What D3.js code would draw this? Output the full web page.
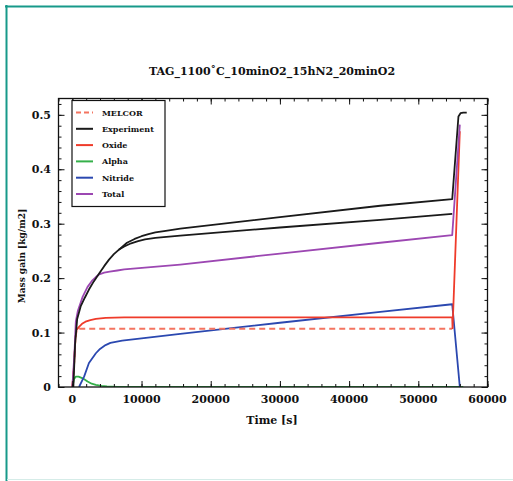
<!DOCTYPE html>
<html><head><meta charset="utf-8">
<script src="https://cdn.jsdelivr.net/npm/d3@7"></script>
<style>body{margin:0;background:#fff}svg{display:block}text{font-family:"DejaVu Serif",serif;font-weight:bold;fill:#111}</style>
</head><body><svg id="c" width="513" height="481"></svg>
<script>
const title = "TAG_1100˚C_10minO2_15hN2_20minO2";
const xTicks = [0,10000,20000,30000,40000,50000,60000];
const yTicks = [0,0.1,0.2,0.3,0.4,0.5];
const seriesNames = ["MELCOR","Experiment","Oxide","Alpha","Nitride","Total"];
const melcor = [[0,0],[250,0.04],[450,0.09],[650,0.105],[1000,0.107],[54900,0.107]];
const experiment1 = [[150,0],[400,0.08],[700,0.125],[1200,0.148],[1800,0.164],[2400,0.179],[3100,0.194],[3850,0.208],[4600,0.222],[5300,0.234],[6000,0.244],[6700,0.252],[7900,0.265],[9000,0.272],[10000,0.277],[11000,0.281],[12000,0.284],[13500,0.287],[15600,0.291],[30000,0.312],[44500,0.333],[54900,0.345],[55800,0.497],[56100,0.503],[56500,0.504],[57000,0.504]];
const experiment2 = [[6700,0.252],[7500,0.258],[8500,0.264],[9500,0.268],[10500,0.271],[12000,0.274],[15600,0.278],[30000,0.293],[44500,0.307],[54900,0.318]];
const oxide = [[0,0],[250,0.04],[450,0.09],[600,0.105],[1000,0.111],[1400,0.116],[1900,0.12],[2600,0.123],[3400,0.125],[4800,0.127],[7500,0.128],[54900,0.128],[54950,0.108],[56000,0.47]];
const alpha = [[0,0],[250,0.015],[500,0.019],[900,0.019],[1500,0.016],[2200,0.01],[2800,0.006],[3400,0.004],[4200,0.002],[5000,0.001],[6500,0],[56500,0]];
const nitride = [[970,0],[1700,0.019],[2400,0.044],[3400,0.062],[4000,0.07],[4800,0.077],[5500,0.081],[6250,0.083],[7200,0.085],[15600,0.0976],[30000,0.118],[44500,0.138],[54900,0.152],[56000,0]];
const total = [[0,0],[300,0.06],[500,0.12],[800,0.14],[1500,0.166],[2200,0.184],[2900,0.196],[3400,0.202],[3900,0.207],[4600,0.21],[5400,0.212],[6500,0.214],[7500,0.216],[15600,0.225],[30000,0.245],[44500,0.265],[54900,0.279],[56000,0.482]];

const colors = {MELCOR:"#f47460",Experiment:"#1a1a1a",Oxide:"#ef3b2a",Alpha:"#35b04a",Nitride:"#2b48b0",Total:"#9c47b2"};

const svg = d3.select("#c");
// frame
svg.append("line").attr("x1",5).attr("x2",513).attr("y1",6.5).attr("y2",6.5).attr("stroke","#17998a").attr("stroke-width",2);
svg.append("line").attr("x1",6.5).attr("x2",6.5).attr("y1",5).attr("y2",481).attr("stroke","#17998a").attr("stroke-width",2);
svg.append("line").attr("x1",7).attr("x2",513).attr("y1",479.5).attr("y2",479.5).attr("stroke","#d5ece8").attr("stroke-width",1);

const L=58.5,R=487.5,T=98.5,B=387;
const x = d3.scaleLinear().domain([-2000,60000]).range([L,R]);
const y = d3.scaleLinear().domain([0,0.53]).range([B,T]);

const g = svg.append("g");
svg.append("clipPath").attr("id","clip").append("rect").attr("x",L).attr("y",T).attr("width",R-L).attr("height",B-T);

const line = d3.line().x(d=>x(d[0])).y(d=>y(d[1]));
const lines = g.append("g").attr("clip-path","url(#clip)");
function draw(data,color,dash){
  lines.append("path").datum(data).attr("d",line).attr("fill","none").attr("stroke",color).attr("stroke-width",1.8).attr("stroke-dasharray",dash||null).attr("stroke-linejoin","round");
}
draw(alpha,colors.Alpha);
draw(nitride,colors.Nitride);
draw(melcor,colors.MELCOR,"6,4");
draw(oxide,colors.Oxide);
draw(total,colors.Total);
draw(experiment2,colors.Experiment);
draw(experiment1,colors.Experiment);

// axes with inward ticks
const xMinor = d3.range(-2000,60001,2000);
const yMinor = d3.range(0,0.531,0.02);
function xaxis(pos,dir){
  const mk = ()=> dir>0 ? d3.axisTop(x) : d3.axisBottom(x);
  const gg = g.append("g").attr("transform",`translate(0,${pos})`);
  gg.call(mk().tickValues(xMinor).tickSize(3).tickFormat(""));
  gg.select(".domain").remove();
  const gm = g.append("g").attr("transform",`translate(0,${pos})`);
  gm.call(mk().tickValues(xTicks).tickSize(6).tickFormat(""));
  gm.select(".domain").remove();
}
xaxis(B,1); xaxis(T,-1);
function yaxis(pos,dir){
  const mk = ()=> dir>0 ? d3.axisRight(y) : d3.axisLeft(y);
  const gg = g.append("g").attr("transform",`translate(${pos},0)`);
  gg.call(mk().tickValues(yMinor).tickSize(3).tickFormat(""));
  gg.select(".domain").remove();
  const gm = g.append("g").attr("transform",`translate(${pos},0)`);
  gm.call(mk().tickValues(yTicks).tickSize(6).tickFormat(""));
  gm.select(".domain").remove();
}
yaxis(L,1); yaxis(R,-1);
g.selectAll(".tick line").attr("stroke","#111");
g.append("rect").attr("x",L).attr("y",T).attr("width",R-L).attr("height",B-T).attr("fill","none").attr("stroke","#111").attr("stroke-width",1.3);

// tick labels
g.selectAll(".xl").data(xTicks).join("text").attr("x",d=>x(d)).attr("y",403).attr("text-anchor","middle").attr("font-size",11).text(d=>d);
g.selectAll(".yl").data(yTicks).join("text").attr("x",51).attr("y",d=>y(d)+4).attr("text-anchor","end").attr("font-size",11).text(d=>d===0?"0":d3.format(".1f")(d));

svg.append("text").attr("x",272).attr("y",75).attr("text-anchor","middle").attr("font-size",11).text(title);
svg.append("text").attr("x",272).attr("y",424).attr("text-anchor","middle").attr("font-size",11).text("Time [s]");
svg.append("text").attr("transform","translate(25,256) rotate(-90)").attr("text-anchor","middle").attr("font-size",9).text("Mass gain [kg/m2]");

// legend
const lg = svg.append("g");
lg.append("rect").attr("x",72).attr("y",100.5).attr("width",93).attr("height",106).attr("fill","#fff").attr("stroke","#111").attr("stroke-width",1.2);
seriesNames.forEach((n,i)=>{
  const yy = 112.5 + i*16.3;
  lg.append("line").attr("x1",76).attr("x2",93).attr("y1",yy).attr("y2",yy).attr("stroke",colors[n]).attr("stroke-width",2).attr("stroke-dasharray",n==="MELCOR"?"5,3":null);
  lg.append("text").attr("x",102).attr("y",yy+3).attr("font-size",8).text(n);
});
</script></body></html>
